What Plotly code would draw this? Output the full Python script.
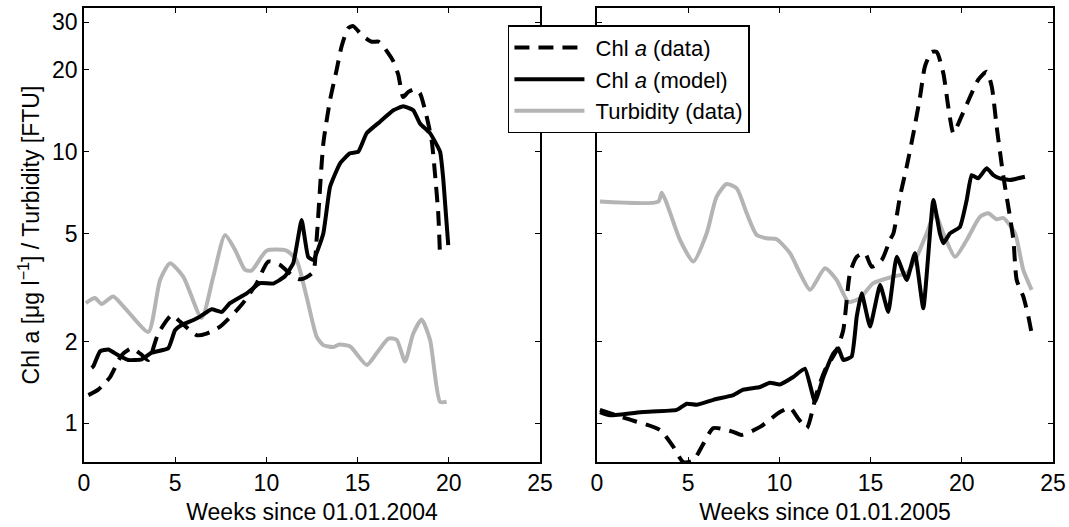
import plotly.graph_objects as go

# ---------------- data ----------------
# 2004 (left panel)
weeks_2004_turb = [0.1, 0.6, 0.97, 1.6, 2.34, 3.53, 4.17, 4.71, 5.44, 6.45, 7.09, 7.73, 8.28, 8.83, 9.19,
                   10.01, 11.1, 11.65, 12.2, 12.76, 13.12, 13.67, 14.0, 14.58, 15.5, 16.04, 16.69, 17.14,
                   17.6, 18.05, 18.51, 18.97, 19.52, 19.88]
turb_2004 = [2.77, 2.89, 2.75, 2.93, 2.61, 2.17, 3.37, 3.88, 3.47, 2.44, 3.47, 4.93, 4.35, 3.67, 3.65,
             4.32, 4.32, 3.99, 2.93, 2.08, 1.94, 1.91, 1.95, 1.92, 1.64, 1.81, 2.05, 2.03,
             1.69, 2.14, 2.41, 2.03, 1.2, 1.2]

weeks_2004_model = [0.42, 0.51, 0.88, 1.33, 1.88, 2.43, 3.16, 3.71, 4.62, 4.99, 5.36, 6.0, 6.36, 7.0, 7.55,
                    8.0, 8.92, 9.65, 10.38, 11.0, 11.47, 11.93, 12.29, 12.57, 13.12, 13.49, 14.04, 14.58,
                    15.04, 15.5, 16.23, 16.96, 17.5, 18.05, 18.42, 18.97, 19.52, 19.7, 19.97]
chl_model_2004 = [1.6, 1.62, 1.84, 1.87, 1.78, 1.71, 1.72, 1.82, 1.89, 2.2, 2.3, 2.4, 2.47, 2.63, 2.57,
                  2.77, 3.01, 3.28, 3.27, 3.47, 3.88, 5.6, 4.1, 3.99, 5.0, 7.43, 9.06, 9.86,
                  10.0, 11.7, 12.9, 14.2, 14.7, 14.2, 12.7, 11.7, 10.0, 7.87, 4.53]

weeks_2004_data = [0.24, 0.78, 1.43, 2.06, 2.61, 3.1, 3.53, 4.07, 4.81, 5.26, 6.18, 6.72, 7.46, 8.64, 9.47,
                   10.1, 10.75, 11.47, 11.84, 12.2, 12.57, 12.75, 13.12, 13.49, 13.85, 14.12, 14.49, 14.76,
                   15.22, 15.77, 16.14, 16.41, 16.96, 17.23, 17.5, 17.78, 18.14, 18.42, 18.78, 19.06,
                   19.24, 19.42, 19.52]
chl_data_2004 = [1.27, 1.33, 1.48, 1.78, 1.89, 1.8, 1.71, 2.14, 2.5, 2.37, 2.11, 2.14, 2.27, 2.73, 3.28,
                 3.94, 3.83, 3.47, 3.39, 3.45, 3.61, 4.73, 10.7, 15.5, 20.0, 24.4, 28.5, 29.0,
                 26.9, 25.4, 25.4, 24.4, 21.5, 19.2, 15.9, 16.6, 17.0, 16.4, 13.5, 11.0,
                 8.32, 5.93, 4.1]

# 2005 (right panel)
weeks_2005_turb = [0.16, 3.36, 3.55, 3.82, 4.55, 5.28, 6.01, 6.56, 7.11, 7.66, 8.21, 8.76, 9.3, 9.85, 10.58,
                   11.13, 11.68, 12.5, 13.14, 13.78, 14.42, 15.15, 16.25, 16.98, 17.53, 18.07, 18.53,
                   18.99, 19.63, 20.27, 21.0, 21.45, 21.91, 22.28, 22.92, 23.37, 23.83]
turb_2005 = [6.55, 6.55, 7.06, 6.46, 4.73, 3.94, 5.0, 6.83, 7.6, 7.33, 5.93, 4.93, 4.8, 4.76, 4.23,
             3.57, 3.1, 3.72, 3.37, 2.8, 2.89, 3.28, 3.47, 3.57, 4.1, 5.0, 5.93,
             5.0, 4.1, 4.73, 5.76, 5.93, 5.64, 5.7, 5.0, 3.67, 3.1]

weeks_2005_model = [0.16, 0.71, 2.54, 4.37, 4.92, 5.47, 6.38, 7.47, 8.02, 8.94, 9.48, 10.03, 10.76, 11.4,
                    11.95, 12.41, 12.96, 13.23, 13.5, 13.96, 14.24, 14.51, 14.97, 15.52, 15.97, 16.43,
                    16.98, 17.43, 17.89, 18.44, 18.8, 18.99, 19.35, 19.9, 20.27, 20.54, 20.9, 21.36,
                    21.73, 22.09, 22.64, 23.46]
chl_model_2005 = [1.1, 1.07, 1.1, 1.12, 1.18, 1.17, 1.22, 1.27, 1.33, 1.36, 1.41, 1.39, 1.48, 1.59,
                  1.2, 1.48, 1.81, 1.89, 1.71, 1.76, 2.47, 3.01, 2.27, 3.23, 2.57, 4.1,
                  3.37, 4.23, 2.65, 6.64, 5.0, 4.6, 5.0, 5.29, 6.64, 8.2, 7.98, 8.69,
                  8.2, 7.98, 7.87, 8.09]

weeks_2005_data = [0.16, 1.63, 3.45, 4.18, 4.73, 5.28, 5.83, 6.38, 7.47, 7.93, 8.94, 10.03, 10.58, 11.04,
                   11.5, 12.04, 12.5, 13.14, 13.5, 13.87, 14.24, 14.69, 15.06, 15.61, 16.06, 16.25, 16.61,
                   16.98, 17.35, 17.71, 17.98, 18.35, 18.62, 18.99, 19.26, 19.54, 19.9, 20.45, 20.9,
                   21.36, 21.64, 21.91, 22.28, 22.64, 22.83, 23.01, 23.37, 23.65, 23.83]
chl_data_2005 = [1.12, 1.04, 0.945, 0.82, 0.72, 0.73, 0.84, 0.96, 0.93, 0.906, 0.97, 1.1, 1.14, 1.04,
                 0.96, 1.29, 1.57, 1.86, 2.2, 3.57, 4.1, 4.23, 3.77, 3.99, 4.73, 5.0, 6.83,
                 8.81, 11.7, 15.9, 20.6, 23.3, 23.3, 19.4, 14.6, 11.7, 13.1, 15.9, 18.4,
                 19.7, 17.4, 12.4, 8.09, 5.76, 4.73, 3.37, 2.93, 2.47, 2.14]

x_ticks = [0, 5, 10, 15, 20, 25]
y_ticks = [1, 2, 5, 10, 20, 30]
series_names = ["&nbsp;Chl <i>a</i> (data)", "&nbsp;Chl <i>a</i> (model)", "&nbsp;Turbidity (data)"]
x_titles = ["Weeks since 01.01.2004", "Weeks since 01.01.2005"]
y_title = "Chl a [μg l<sup>−1</sup>] / Turbidity [FTU]"

# ---------------- styling ----------------
FONT = "Liberation Sans, Arial, Helvetica, sans-serif"
GRAY = "#b4b4b4"
LW = 4
DASH = "15px,9px"

fig = go.Figure()

panels = [
    ("x", "y", weeks_2004_data, chl_data_2004, weeks_2004_model, chl_model_2004,
     weeks_2004_turb, turb_2004, True),
    ("x2", "y2", weeks_2005_data, chl_data_2005, weeks_2005_model, chl_model_2005,
     weeks_2005_turb, turb_2005, False),
]

for xa, ya, xd, yd, xm, ym, xt, yt, show in panels:
    fig.add_trace(go.Scatter(x=xt, y=yt, mode="lines", name=series_names[2], legendgroup="t",
                             legendrank=3, showlegend=show, xaxis=xa, yaxis=ya,
                             line=dict(color=GRAY, width=LW, shape="spline", smoothing=0.6)))
    fig.add_trace(go.Scatter(x=xm, y=ym, mode="lines", name=series_names[1], legendgroup="m",
                             legendrank=2, showlegend=show, xaxis=xa, yaxis=ya,
                             line=dict(color="black", width=LW, shape="spline", smoothing=0.4)))
    fig.add_trace(go.Scatter(x=xd, y=yd, mode="lines", name=series_names[0], legendgroup="d",
                             legendrank=1, showlegend=show, xaxis=xa, yaxis=ya,
                             line=dict(color="black", width=LW, dash=DASH, shape="spline", smoothing=0.6)))

TICK_SIZE = 23
axis_common = dict(showline=True, linecolor="black", linewidth=1.5, mirror="ticks", ticks="inside",
                   ticklen=5, tickwidth=1.2, tickcolor="black", showgrid=False, zeroline=False,
                   automargin=False, tickfont=dict(family=FONT, size=TICK_SIZE, color="black"))

xcommon = dict(axis_common, range=[0, 25], tickvals=x_ticks, ticktext=[str(v) for v in x_ticks],
               title_font=dict(family=FONT, size=23, color="black"), title_standoff=9)
ycommon = dict(axis_common, type="log", range=[-0.1425, 1.529], tickvals=y_ticks,
               ticktext=[str(v) for v in y_ticks])

fig.update_layout(
    width=1069, height=527,
    margin=dict(l=84, r=16, t=8, b=65),
    paper_bgcolor="white", plot_bgcolor="white",
    font=dict(family=FONT, size=22, color="black"),
    xaxis=dict(xcommon, domain=[0, 0.4706], anchor="y", title_text=x_titles[0]),
    xaxis2=dict(xcommon, domain=[0.5294, 1], anchor="y2", title_text=x_titles[1]),
    yaxis=dict(ycommon, anchor="x", title_text=y_title,
               title_font=dict(family=FONT, size=23, color="black"), title_standoff=6),
    yaxis2=dict(ycommon, anchor="x2", showticklabels=False, matches="y"),
    legend=dict(x=0.4375, y=0.962, xanchor="left", yanchor="top", bgcolor="white",
                bordercolor="black", borderwidth=1.5, font=dict(family=FONT, size=22, color="black"),
                itemwidth=70, tracegroupgap=0, traceorder="normal"),
    showlegend=True,
)

fig.write_html("out.html")
